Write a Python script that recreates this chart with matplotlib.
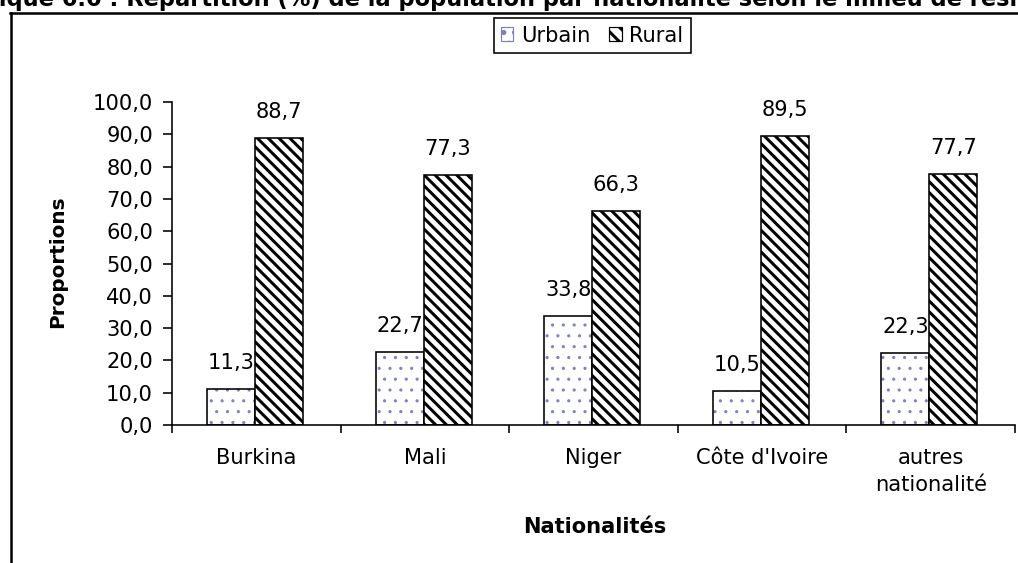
import matplotlib
matplotlib.use("Agg")
import matplotlib.pyplot as plt
from matplotlib.lines import Line2D
from matplotlib.patches import Patch
import numpy as np

# ---- data ----
categories = ["Burkina", "Mali", "Niger", "Côte d'Ivoire", "autres\nnationalité"]
urbain = [11.3, 22.7, 33.8, 10.5, 22.3]
rural = [88.7, 77.3, 66.3, 89.5, 77.7]
series_names = ["Urbain", "Rural"]
yticks = [0, 10, 20, 30, 40, 50, 60, 70, 80, 90, 100]
title = "Graphique 6.6 : Répartition (%) de la population par nationalité selon le milieu de résidence"
xlabel = "Nationalités"
ylabel = "Proportions"

W, H = 1018, 563
DPI = 130
def P(px):
    return px * 72.0 / DPI

plt.rcParams['font.family'] = ['DejaVu Sans']
plt.rcParams['hatch.linewidth'] = P(3.0)

RURAL_HATCH = '\\' * 4
URBAN_HATCH = '..'

fig = plt.figure(figsize=(W / DPI, H / DPI), dpi=DPI)
fig.patch.set_facecolor('white')

ax = fig.add_axes([172 / W, 1 - 425 / H, (1015 - 172) / W, (425 - 102) / H])
ax.set_xlim(0, len(categories))
ax.set_ylim(0, 100)

x = np.arange(len(categories))
bw = 0.285
xu = x + 0.207 + bw / 2
xr = x + 0.207 + bw + bw / 2

FS = P(21)

# urban bars: blue-grey dot pattern, black outline
bu = ax.bar(xu, urbain, bw, color='white', edgecolor='#7f7fc4', hatch=URBAN_HATCH, linewidth=0)
for b in bu:
    if hasattr(b, 'set_hatch_linewidth'):
        b.set_hatch_linewidth(P(1.0))
ax.bar(xu, urbain, bw, fill=False, edgecolor='black', linewidth=P(1.6))
# rural bars: black diagonal hatch
br = ax.bar(xr, rural, bw, color='white', edgecolor='black', hatch=RURAL_HATCH, linewidth=P(1.6))
for b in br:
    if hasattr(b, 'set_hatch_linewidth'):
        b.set_hatch_linewidth(P(3.0))

for xs, vals in ((xu, urbain), (xr, rural)):
    for xi, v in zip(xs, vals):
        ax.annotate(f"{v:.1f}".replace('.', ','), (xi, v), xytext=(0, P(20)),
                    textcoords='offset points', ha='center', va='baseline',
                    fontsize=FS, color='black')

for s in ('top', 'right'):
    ax.spines[s].set_visible(False)
for s in ('left', 'bottom'):
    ax.spines[s].set_linewidth(P(1.6))

ax.set_yticks(yticks)
ax.set_yticklabels([f"{t:.1f}".replace('.', ',') for t in yticks], fontsize=FS)
ax.tick_params(axis='y', direction='out', length=P(9), width=P(1.6), pad=P(10))

ax.set_xticks(np.arange(len(categories) + 1))
ax.set_xticklabels([])
ax.set_xticks(x + 0.5, minor=True)
ax.set_xticklabels(categories, minor=True, fontsize=FS, linespacing=1.45)
ax.tick_params(axis='x', which='major', direction='out', length=P(8), width=P(1.6))
ax.tick_params(axis='x', which='minor', length=0, pad=P(23))

fig.text(595 / W, 1 - 527 / H, xlabel, ha='center', va='center',
         fontsize=P(21), fontweight='bold')
fig.text(58 / W, 1 - 262 / H, ylabel, ha='center', va='center', rotation=90,
         fontsize=P(20), fontweight='bold')

# legend
handles = [Patch(facecolor='white', edgecolor='#7f7fc4', hatch=URBAN_HATCH, linewidth=P(1.2)),
           Patch(facecolor='white', edgecolor='black', hatch='\\' * 3, linewidth=P(1.2))]
leg = fig.legend(handles, series_names, loc='center', bbox_to_anchor=(592 / W, 1 - 35.5 / H),
                 ncol=2, fontsize=FS, frameon=True, fancybox=False, framealpha=1,
                 edgecolor='black', handlelength=0.6, handleheight=0.6,
                 handletextpad=0.35, columnspacing=0.9, borderpad=0.35, borderaxespad=0)
leg.get_frame().set_linewidth(P(1.6))

# outer frame (left and top edges visible)
fig.add_artist(Line2D([11 / W, 11 / W], [0, 1 - 13 / H], transform=fig.transFigure,
                      color='black', linewidth=P(2.5)))
fig.add_artist(Line2D([10 / W, 1.0], [1 - 13 / H, 1 - 13 / H], transform=fig.transFigure,
                      color='black', linewidth=P(2.5)))

# title, clipped at the top of the image
renderer = fig.canvas.get_renderer()
visible = "ique 6.6 : Répartition (%) de la population par nationalité selon le milieu de résid"
tmp = fig.text(0, 0, visible, fontsize=10, fontweight='bold')
wv = tmp.get_window_extent(renderer).width
tmp.remove()
tfs = 10 * 1030 / wv
tmp = fig.text(0, 0, "Graph", fontsize=tfs, fontweight='bold')
wg = tmp.get_window_extent(renderer).width
tmp.remove()
fig.text(-(wg + 1) / W, 1 - 6 / H, title, ha='left', va='baseline',
         fontsize=tfs, fontweight='bold')

fig.savefig("out.png", dpi=DPI, facecolor='white')
